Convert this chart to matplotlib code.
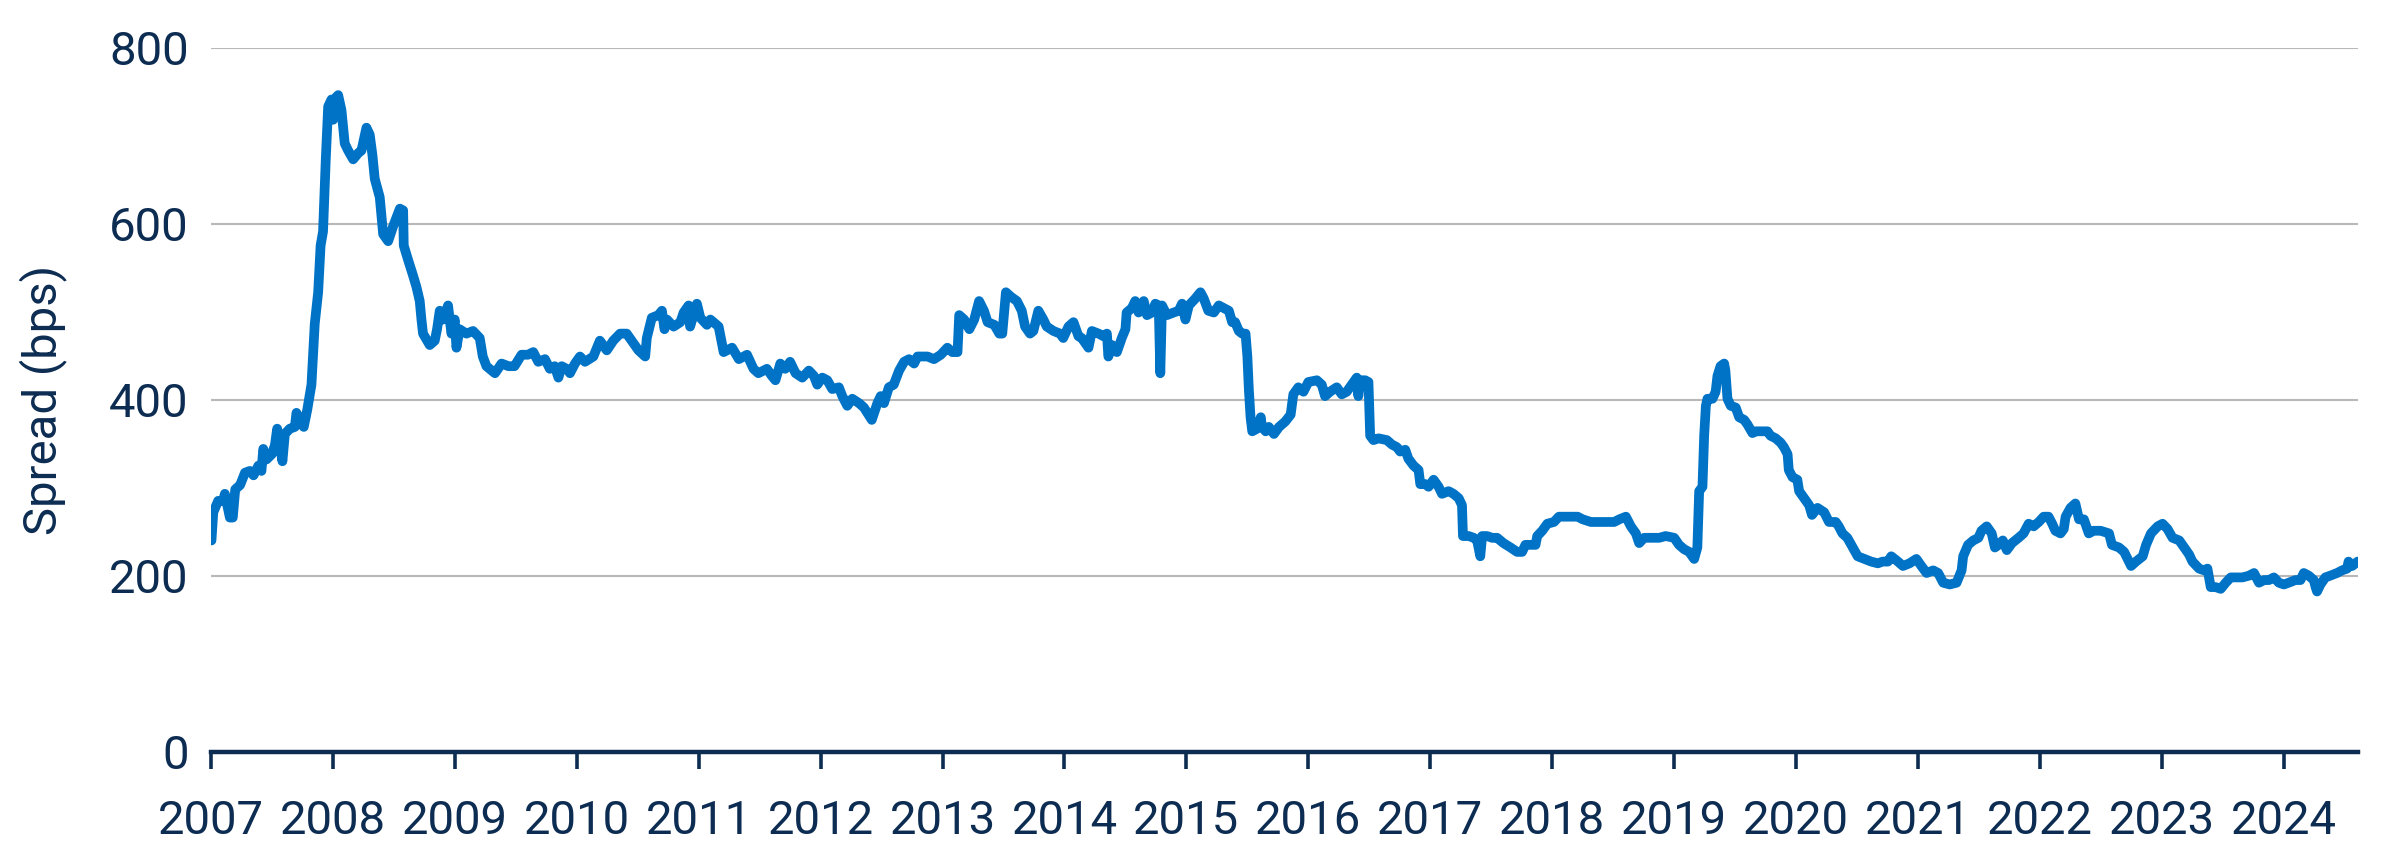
import matplotlib.pyplot as plt
import numpy as np

# Spread in bps (x = decimal year)
years = [
    2007.005, 2007.02, 2007.06, 2007.10, 2007.115, 2007.156, 2007.18, 2007.20, 2007.24, 2007.28,
    2007.32, 2007.35, 2007.39, 2007.415, 2007.43, 2007.456, 2007.50, 2007.525, 2007.544, 2007.587,
    2007.607, 2007.648, 2007.689, 2007.702, 2007.73, 2007.762, 2007.79, 2007.825, 2007.852, 2007.88,
    2007.90, 2007.92, 2007.943, 2007.962, 2007.989, 2008.003, 2008.03, 2008.044, 2008.071, 2008.098,
    2008.126, 2008.167, 2008.208, 2008.235, 2008.276, 2008.303, 2008.325, 2008.344, 2008.385, 2008.413,
    2008.454, 2008.495, 2008.55, 2008.577, 2008.582, 2008.617, 2008.658, 2008.686, 2008.713, 2008.727,
    2008.74, 2008.795, 2008.836, 2008.855, 2008.877, 2008.904, 2008.945, 2008.973, 2009.0, 2009.014,
    2009.04, 2009.096,
    2009.15, 2009.205, 2009.23, 2009.26, 2009.33, 2009.384, 2009.44, 2009.49, 2009.548, 2009.60,
    2009.644, 2009.685, 2009.74, 2009.78, 2009.82, 2009.85, 2009.877, 2009.918, 2009.945, 2009.986,
    2010.027, 2010.068, 2010.137, 2010.19, 2010.247, 2010.30, 2010.356, 2010.41, 2010.466, 2010.507,
    2010.562, 2010.575, 2010.616, 2010.67, 2010.699, 2010.72, 2010.74, 2010.795, 2010.85, 2010.877,
    2010.918, 2010.93, 2010.986, 2011.014, 2011.068, 2011.096, 2011.164, 2011.205, 2011.274, 2011.33,
    2011.397, 2011.45, 2011.49, 2011.56, 2011.60, 2011.63, 2011.67, 2011.71, 2011.75, 2011.795,
    2011.85, 2011.904, 2011.945, 2011.973, 2012.014, 2012.055, 2012.096, 2012.15, 2012.178, 2012.219,
    2012.26, 2012.315, 2012.356, 2012.42, 2012.466, 2012.493, 2012.52, 2012.56, 2012.60, 2012.644,
    2012.685, 2012.726, 2012.767, 2012.795, 2012.877, 2012.93, 2012.986, 2013.04, 2013.08, 2013.123,
    2013.137, 2013.178, 2013.22, 2013.26, 2013.30, 2013.34, 2013.37, 2013.425, 2013.466, 2013.49,
    2013.52, 2013.56,
    2013.61, 2013.65, 2013.677, 2013.718, 2013.745, 2013.786, 2013.827, 2013.855, 2013.91, 2013.964,
    2013.99, 2014.033, 2014.074, 2014.115, 2014.142, 2014.197, 2014.225, 2014.28, 2014.32, 2014.348,
    2014.36, 2014.39, 2014.43, 2014.47, 2014.50, 2014.51, 2014.553, 2014.58, 2014.608, 2014.65,
    2014.677, 2014.718, 2014.745, 2014.773, 2014.786, 2014.80, 2014.84, 2014.896, 2014.937, 2014.964,
    2014.992, 2015.02, 2015.074, 2015.115, 2015.142, 2015.18, 2015.225, 2015.266, 2015.307, 2015.348,
    2015.375, 2015.40, 2015.43, 2015.457, 2015.485, 2015.50, 2015.512, 2015.526, 2015.54, 2015.58,
    2015.61, 2015.62, 2015.65, 2015.676, 2015.718, 2015.76, 2015.81, 2015.855,
    2015.877, 2015.918, 2015.96, 2016.0, 2016.07, 2016.11, 2016.137, 2016.178, 2016.233, 2016.274,
    2016.315, 2016.356, 2016.397, 2016.41, 2016.425, 2016.466, 2016.493, 2016.507, 2016.534, 2016.575,
    2016.644, 2016.685, 2016.726, 2016.753, 2016.795, 2016.82, 2016.863, 2016.904, 2016.918, 2016.96,
    2016.986, 2017.027, 2017.068, 2017.096, 2017.15, 2017.19, 2017.233, 2017.26, 2017.268, 2017.315,
    2017.356, 2017.384, 2017.41, 2017.425, 2017.466, 2017.507, 2017.548, 2017.60, 2017.658, 2017.712,
    2017.753, 2017.78, 2017.82, 2017.863, 2017.877, 2017.918, 2017.96, 2018.014, 2018.055, 2018.11,
    2018.153, 2018.208, 2018.25, 2018.317, 2018.385, 2018.44, 2018.508, 2018.55, 2018.604, 2018.645,
    2018.686, 2018.713, 2018.754, 2018.809, 2018.877, 2018.93, 2019.0, 2019.04, 2019.082, 2019.123,
    2019.164, 2019.19, 2019.205, 2019.232, 2019.246, 2019.26, 2019.273, 2019.314, 2019.34, 2019.355,
    2019.38, 2019.41, 2019.42, 2019.437, 2019.464, 2019.505, 2019.533, 2019.574, 2019.60, 2019.642,
    2019.67, 2019.71, 2019.765, 2019.79, 2019.833, 2019.874, 2019.90, 2019.93, 2019.94, 2019.97,
    2020.01, 2020.025, 2020.066, 2020.107, 2020.13, 2020.175, 2020.23, 2020.27, 2020.325, 2020.35,
    2020.38, 2020.42,
    2020.464, 2020.505, 2020.56, 2020.615, 2020.67, 2020.71, 2020.753, 2020.78, 2020.835, 2020.876,
    2020.93, 2020.986, 2021.027, 2021.07, 2021.124, 2021.165, 2021.206, 2021.26, 2021.316, 2021.357,
    2021.37, 2021.41, 2021.453, 2021.495, 2021.52, 2021.563, 2021.604, 2021.63, 2021.66, 2021.695,
    2021.728, 2021.77, 2021.824, 2021.865, 2021.907, 2021.948, 2021.99, 2022.03, 2022.07, 2022.10,
    2022.126, 2022.168, 2022.195, 2022.21, 2022.25, 2022.29, 2022.32, 2022.36, 2022.40, 2022.44,
    2022.497, 2022.566, 2022.59, 2022.648, 2022.69,
    2022.747, 2022.787, 2022.842, 2022.87, 2022.91, 2022.965, 2023.005, 2023.046, 2023.087, 2023.142,
    2023.183, 2023.223, 2023.25, 2023.305, 2023.346, 2023.373, 2023.40, 2023.44, 2023.482, 2023.523,
    2023.564, 2023.605, 2023.66, 2023.714, 2023.755, 2023.796, 2023.837, 2023.877, 2023.918, 2023.959,
    2024.0, 2024.04, 2024.095, 2024.136, 2024.163, 2024.204, 2024.245, 2024.26, 2024.272, 2024.30,
    2024.34, 2024.38, 2024.436, 2024.477, 2024.518, 2024.53, 2024.56, 2024.605,
]
spread = [
    240, 272, 285, 285, 293, 266, 266, 298, 303, 317,
    319, 314, 325, 319, 344, 332, 338, 348, 367, 330,
    361, 367, 369, 385, 377, 369, 388, 417, 486, 522,
    575, 591, 675, 733, 741, 718, 744, 746, 729, 691,
    683, 673, 680, 683, 709, 701, 678, 651, 630, 588,
    580, 597, 617, 615, 575, 559, 541, 528, 512, 491,
    475, 462, 467, 480, 501, 491, 507, 475, 491, 459,
    480, 475,
    478, 470, 449, 438, 430, 441, 438, 438, 451, 451,
    454, 443, 446, 435, 438, 425, 438, 435, 430, 441,
    449, 443, 449, 467, 456, 467, 475, 475, 464, 456,
    449, 470, 493, 496, 501, 480, 491, 483, 488, 499,
    507, 483, 509, 493, 485, 491, 483, 454, 459, 446,
    451, 435, 430, 435, 427, 422, 441, 435, 443, 430,
    425, 433, 427, 417, 425, 422, 412, 414, 404, 393,
    401, 396, 391, 377, 396, 404, 396, 414, 417, 433,
    443, 446, 441, 449, 449, 446, 451, 459, 454, 454,
    496, 491, 480, 491, 512, 501, 488, 485, 475, 475,
    522, 517,
    512, 501, 483, 475, 478, 501, 491, 483, 478, 475,
    470, 483, 488, 472, 470, 459, 478, 475, 472, 475,
    449, 462, 454, 470, 480, 499, 504, 512, 499, 512,
    496, 499, 509, 507, 430, 507, 496, 499, 501, 509,
    491, 507, 515, 522, 515, 501, 499, 507, 504, 501,
    488, 488, 478, 475, 475, 449, 412, 380, 364, 367,
    380, 369, 364, 369, 361, 369, 375, 383,
    406, 414, 409, 420, 422, 417, 404, 409, 414, 406,
    409, 417, 425, 404, 422, 422, 420, 359, 354, 356,
    354, 349, 346, 341, 343, 333, 325, 320, 304, 304,
    301, 309, 301, 293, 296, 293, 288, 280, 245, 245,
    243, 240, 222, 245, 245, 243, 243, 237, 232, 227,
    227, 235, 235, 235, 245, 251, 259, 261, 267, 267,
    267, 267, 264, 261, 261, 261, 261, 264, 267, 256,
    248, 237, 243, 243, 243, 245, 243, 235, 230, 227,
    219, 232, 296, 301, 359, 393, 401, 401, 409, 427,
    438, 441, 433, 401, 393, 391, 380, 377, 372, 362,
    364, 364, 364, 359, 356, 351, 346, 338, 320, 312,
    309, 296, 288, 280, 269, 277, 272, 261, 261, 256,
    248, 243,
    232, 222, 219, 216, 214, 216, 216, 222, 216, 211,
    214, 219, 211, 203, 206, 203, 192, 190, 192, 206,
    222, 235, 240, 243, 251, 256, 248, 232, 235, 240,
    229, 237, 243, 248, 259, 256, 261, 267, 267, 259,
    251, 248, 253, 267, 277, 282, 264, 264, 248, 251,
    251, 248, 235, 232, 227,
    211, 216, 222, 235, 248, 256, 259, 253, 243, 240,
    232, 224, 216, 208, 206, 208, 187, 187, 185, 192,
    198, 198, 198, 200, 203, 192, 195, 195, 198, 192,
    190, 192, 195, 195, 203, 200, 195, 187, 182, 190,
    198, 200, 203, 206, 208, 216, 211, 216,
]
year_ticks = list(range(2007, 2025))
y_ticks = [0, 200, 400, 600, 800]

navy = '#0d2c52'
blue = '#0073c6'

plt.rcParams['font.family'] = ['Roboto', 'DejaVu Sans']

fig = plt.figure(figsize=(23.96, 8.65), dpi=100)
ax = fig.add_axes([0.088, 0.131, 0.896, 0.814])

ax.plot(years, spread, color=blue, linewidth=7,
        solid_joinstyle='round', solid_capstyle='round', zorder=3)

ax.set_xlim(2007.0, years[-1])
ax.set_ylim(0, 800)
ax.set_xticks(year_ticks)
ax.set_xticklabels([str(y) for y in year_ticks])
ax.set_yticks(y_ticks)
ax.set_yticklabels([str(v) for v in y_ticks])

for v in y_ticks[1:]:
    ax.axhline(v, color='#b8b8b8', linewidth=1.5, zorder=1)

for side in ['top', 'right', 'left']:
    ax.spines[side].set_visible(False)
ax.spines['bottom'].set_color(navy)
ax.spines['bottom'].set_linewidth(3.2)
ax.spines['bottom'].set_zorder(4)

ax.tick_params(axis='x', direction='out', length=12, width=2.6, color=navy,
               labelcolor=navy, labelsize=34, pad=22)
ax.tick_params(axis='y', length=0, labelcolor=navy, labelsize=34, pad=16)

ax.set_ylabel('Spread (bps)', fontsize=34, color=navy, labelpad=30)

fig.savefig('out.png', dpi=100)
